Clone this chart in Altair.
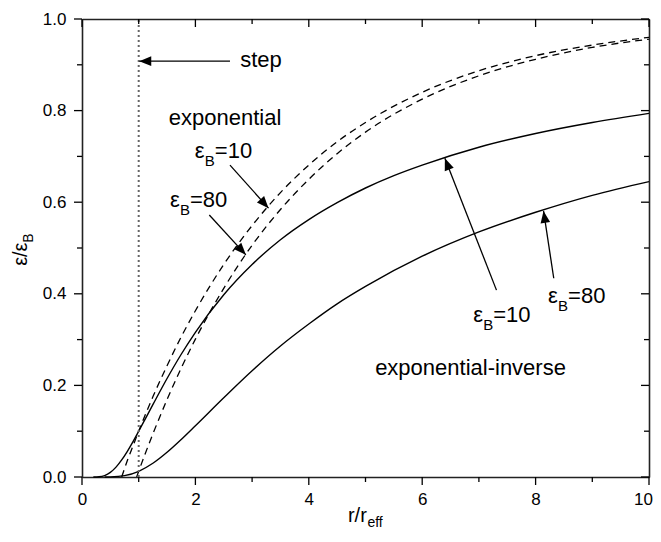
import math
import altair as alt
import pandas as pd

# ---------------- data ----------------
# exponential-inverse profile, eps_B = 10 (solid, upper)
inv10_r = [0.2, 0.3, 0.4, 0.5, 0.6, 0.7, 0.8, 0.9, 1.0, 1.25, 1.5, 1.75, 2.0, 2.5, 3.0, 3.5,
           4.0, 4.5, 5.0, 5.5, 6.0, 7.0, 8.0, 9.0, 10.0]
inv10_y = [0.0, 0.0005, 0.0032, 0.010, 0.0215, 0.0373, 0.0562, 0.0774, 0.100, 0.158, 0.215,
           0.268, 0.316, 0.398, 0.464, 0.518, 0.562, 0.599, 0.631, 0.658, 0.681, 0.720,
           0.750, 0.774, 0.794]
# exponential-inverse profile, eps_B = 80 (solid, lower)
inv80_r = [0.4, 0.5, 0.75, 1.0, 1.25, 1.5, 1.75, 2.0, 2.5, 3.0, 3.5, 4.0, 4.5, 5.0, 6.0, 7.0,
           8.0, 9.0, 10.0]
inv80_y = [0.0, 0.0002, 0.0029, 0.0125, 0.030, 0.054, 0.082, 0.112, 0.173, 0.232, 0.286,
           0.334, 0.378, 0.416, 0.482, 0.535, 0.578, 0.615, 0.645]
# exponential profile, eps_B = 10 (dashed)
exp10_r = [0.70, 0.8, 0.9, 1.0, 1.25, 1.5, 1.75, 2.0, 2.5, 3.0, 3.5, 4.0, 4.5, 5.0, 6.0, 7.0,
           8.0, 9.0, 10.0]
exp10_y = [0.0, 0.036, 0.068, 0.100, 0.175, 0.243, 0.306, 0.363, 0.464, 0.549, 0.621, 0.681,
           0.732, 0.774, 0.840, 0.887, 0.920, 0.943, 0.960]
# exponential profile, eps_B = 80 (dashed)
exp80_r = [0.964, 1.0, 1.25, 1.5, 1.75, 2.0, 2.5, 3.0, 3.5, 4.0, 4.5, 5.0, 6.0, 7.0, 8.0,
           9.0, 10.0]
exp80_y = [0.0, 0.0125, 0.094, 0.169, 0.238, 0.301, 0.412, 0.506, 0.584, 0.650, 0.706,
           0.753, 0.825, 0.876, 0.912, 0.938, 0.956]
# step profile
step_r = [1.0]
step_y0 = [0.0]
step_y1 = [1.0]

# axis ticks
x_major = [0, 2, 4, 6, 8, 10]
x_minor = [1, 3, 5, 7, 9]
y_major = [0.0, 0.2, 0.4, 0.6, 0.8, 1.0]
y_minor = [0.1, 0.3, 0.5, 0.7, 0.9]

# plain text annotations (left / baseline in data coordinates)
note_text = ["step", "exponential", "exponential-inverse"]
note_r = [2.79, 1.53, 5.17]
note_y = [0.896, 0.769, 0.223]

# eps_B labels
eps_val = ["=10", "=80", "=10", "=80"]
eps_r = [1.99, 1.55, 6.90, 8.22]
eps_y = [0.696, 0.590, 0.339, 0.381]

# arrows (start -> tip)
arr_r0 = [2.61, 2.61, 2.245, 7.31, 8.32]
arr_y0 = [0.908, 0.681, 0.572, 0.408, 0.434]
arr_r1 = [1.01, 3.29, 2.89, 6.40, 8.14]
arr_y1 = [0.908, 0.587, 0.485, 0.696, 0.581]

# ---------------- chart ----------------
W, H = 567, 458
FONT = "Liberation Sans"
AX = "#222222"
MAJ, MIN = 8, 5          # tick lengths in pixels
XMIN, XMAX, YMIN, YMAX = 0, 10, 0, 1

xs = alt.Scale(domain=[XMIN, XMAX], nice=False, zero=False)
ys = alt.Scale(domain=[YMIN, YMAX], nice=False, zero=False)
px_x = (XMAX - XMIN) / W   # data units per pixel
px_y = (YMAX - YMIN) / H


def X(field, ax=None):
    return alt.X(field, type="quantitative", scale=xs, axis=ax)


def Y(field, ax=None):
    return alt.Y(field, type="quantitative", scale=ys, axis=ax)


def frame_axis(orient, values, labels, fmt=None, pad=0, **extra):
    kw = dict(orient=orient, values=values, ticks=False, domain=True, domainColor=AX,
              domainWidth=1.6, grid=False, title=None, labels=labels)
    if labels:
        kw.update(format=fmt, labelFont=FONT, labelFontSize=17, labelColor="black",
                  labelFlush=False, labelOverlap=False, labelPadding=pad)
    kw.update(extra)
    return alt.Axis(**kw)


solid_df = pd.concat([
    pd.DataFrame({"r": inv10_r, "y": inv10_y, "curve": "inv10"}),
    pd.DataFrame({"r": inv80_r, "y": inv80_y, "curve": "inv80"}),
])
dash_df = pd.concat([
    pd.DataFrame({"r": exp10_r, "y": exp10_y, "curve": "exp10"}),
    pd.DataFrame({"r": exp80_r, "y": exp80_y, "curve": "exp80"}),
])

bottom_axis = frame_axis(
    "bottom", x_major, True, "d", 14,
    labelOffset={"condition": {"test": "datum.value === 10", "value": -6}, "value": 0},
)
solid = alt.Chart(solid_df).mark_line(color="black", strokeWidth=1.4, interpolate="monotone").encode(
    x=X("r", bottom_axis),
    y=Y("y", frame_axis("left", y_major, True, ".1f", 16)),
    detail="curve:N",
)
dashed = alt.Chart(dash_df).mark_line(color="black", strokeWidth=1.3, strokeDash=[7, 5],
                                      interpolate="monotone").encode(
    x=X("r", frame_axis("top", x_major, False)),
    y=Y("y", frame_axis("right", y_major, False)),
    detail="curve:N",
)
step = alt.Chart(pd.DataFrame({"r": step_r, "y0": step_y0, "y1": step_y1})).mark_rule(
    color="#666666", strokeWidth=2, strokeDash=[2, 3]).encode(
    x=X("r"), y=Y("y0"), y2="y1:Q",
)

# ---- segments: annotation arrows + tick marks (outward bottom/left, inward top/right) ----
seg = {"r0": list(arr_r0), "y0": list(arr_y0), "r1": list(arr_r1), "y1": list(arr_y1)}


def add_ticks(values, length, side):
    for v in values:
        if side == "bottom":
            a, b, c, d = v, YMIN, v, YMIN - length * px_y
        elif side == "top":
            a, b, c, d = v, YMAX, v, YMAX - length * px_y
        elif side == "left":
            a, b, c, d = XMIN, v, XMIN - length * px_x, v
        else:
            a, b, c, d = XMAX, v, XMAX - length * px_x, v
        seg["r0"].append(a); seg["y0"].append(b); seg["r1"].append(c); seg["y1"].append(d)


for side in ("bottom", "top"):
    add_ticks(x_major, MAJ, side)
    add_ticks(x_minor, MIN, side)
for side in ("left", "right"):
    add_ticks(y_major, MAJ, side)
    add_ticks(y_minor, MIN, side)

segments = alt.Chart(pd.DataFrame(seg)).mark_rule(color="black", strokeWidth=1.3).encode(
    x=X("r0"), y=Y("y0"), x2="r1:Q", y2="y1:Q",
)

sx, sy = W / 10.0, H / 1.0
angles = [(math.degrees(math.atan2(-(b1 - b0) * sy, (a1 - a0) * sx)) + 360) % 360
          for a0, b0, a1, b1 in zip(arr_r0, arr_y0, arr_r1, arr_y1)]
arr_df = pd.DataFrame({"r1": arr_r1, "y1": arr_y1, "ang": angles})

heads = alt.Chart(arr_df).mark_point(
    shape="M0,0L-1,-0.4L-1,0.4Z", filled=True, color="black", opacity=1, size=576,
    strokeWidth=0).encode(
    x=X("r1"), y=Y("y1"), angle=alt.Angle("ang:Q", scale=None),
)

notes = alt.Chart(pd.DataFrame({"r": note_r, "y": note_y, "t": note_text})).mark_text(
    font=FONT, fontSize=22, align="left", baseline="alphabetic", color="black").encode(
    x=X("r"), y=Y("y"), text="t:N")

eps_df = pd.DataFrame({"r": eps_r, "y": eps_y, "v": eps_val, "e": "ε", "b": "B"})
eps_main = alt.Chart(eps_df).mark_text(font=FONT, fontSize=22, align="left",
                                       baseline="alphabetic", color="black").encode(
    x=X("r"), y=Y("y"), text="e:N")
eps_sub = alt.Chart(eps_df).mark_text(font=FONT, fontSize=15, align="left", dx=10, dy=8,
                                      baseline="alphabetic", color="black").encode(
    x=X("r"), y=Y("y"), text="b:N")
eps_rest = alt.Chart(eps_df).mark_text(font=FONT, fontSize=22, align="left", dx=20,
                                       baseline="alphabetic", color="black").encode(
    x=X("r"), y=Y("y"), text="v:N")

# axis titles (with subscripts)
ytitle_df = pd.DataFrame({"r": [-0.97], "y": [0.461], "t": ["ε/ε"], "s": ["B"]})
ytitle = alt.Chart(ytitle_df).mark_text(font=FONT, fontSize=20, align="left", angle=270,
                                        baseline="alphabetic", color="black").encode(
    x=X("r"), y=Y("y"), text="t:N")
ytitle_sub = alt.Chart(ytitle_df).mark_text(font=FONT, fontSize=14, align="left", angle=270,
                                            dx=23, dy=6, baseline="alphabetic",
                                            color="black").encode(
    x=X("r"), y=Y("y"), text="s:N")
xtitle_df = pd.DataFrame({"r": [4.69], "y": [-0.0983], "t": ["r/r"], "s": ["eff"]})
xtitle = alt.Chart(xtitle_df).mark_text(font=FONT, fontSize=20, align="left",
                                        baseline="alphabetic", color="black").encode(
    x=X("r"), y=Y("y"), text="t:N")
xtitle_sub = alt.Chart(xtitle_df).mark_text(font=FONT, fontSize=14, align="left", dx=19.5,
                                            dy=5, baseline="alphabetic", color="black").encode(
    x=X("r"), y=Y("y"), text="s:N")

chart = alt.layer(
    solid, dashed, step, segments, heads, notes, eps_main, eps_sub, eps_rest,
    ytitle, ytitle_sub, xtitle, xtitle_sub,
).resolve_axis(x="independent", y="independent").properties(
    width=W, height=H,
    padding={"left": 74, "top": 11, "right": 4, "bottom": 55},
    autosize=alt.AutoSizeParams(type="none"),
).configure_view(stroke=AX, strokeWidth=1.6).configure(background="white")

chart.save("out.html", embed_options={"renderer": "svg", "actions": False})
